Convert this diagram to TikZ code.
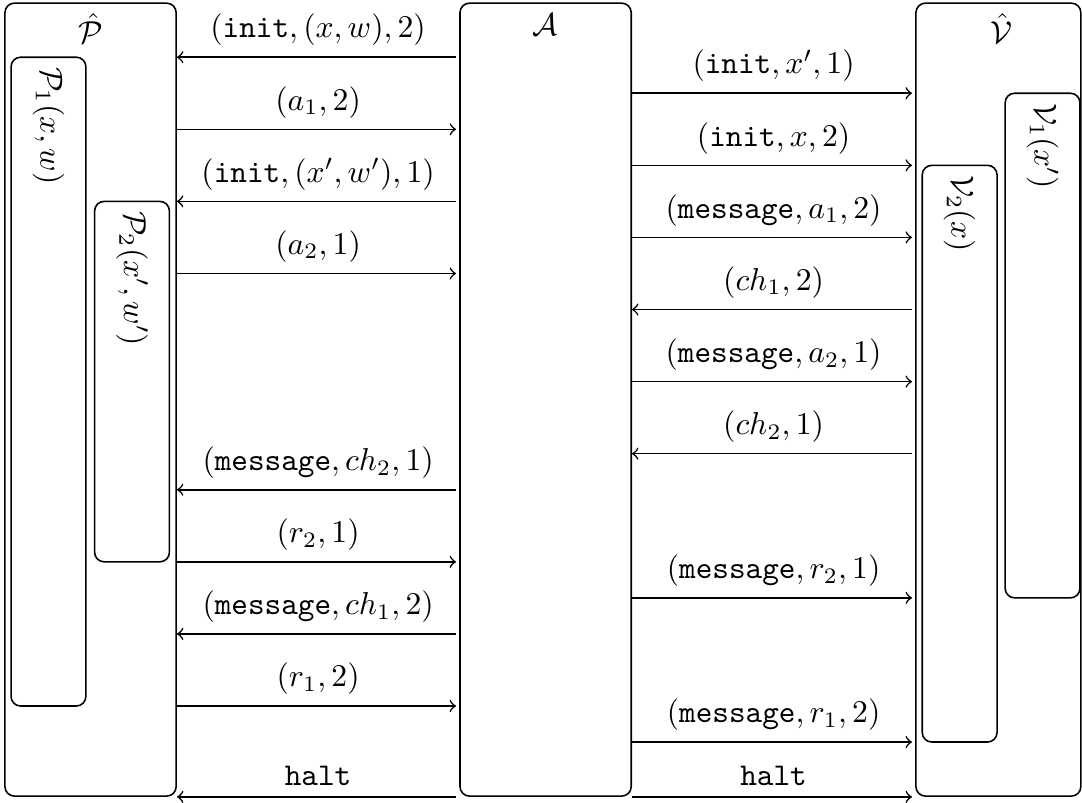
\documentclass[tikz,border=0pt]{standalone}
\usepackage{amsmath}
\usetikzlibrary{positioning, calc}

\begin{document}
\begin{tikzpicture}[
    line width=0.5pt,
    party/.style={draw, rounded corners=3pt, inner sep=0pt},
    sub/.style={draw, rounded corners=3pt, inner sep=0pt, minimum width=0.83cm},
    msg/.style={shorten >=1pt}
  ]
    \useasboundingbox (-0.055,-0.067) rectangle (11.953,8.835);

    % Outer parties
    \node[party, minimum width=1.9cm, minimum height=8.8cm] (phat) at (0.95,4.4) {};
    \node[below] at (phat.north) {$\hat{\mathcal{P}}$};

    \node[party, minimum width=1.9cm, minimum height=8.8cm] (adv) at (6.0,4.4) {};
    \node[below] at (adv.north) {$\mathcal{A}$};

    \node[party, minimum width=1.83cm, minimum height=8.8cm] (vhat) at (11.025,4.4) {};
    \node[below] at ([xshift=1pt]vhat.north) {$\hat{\mathcal{V}}$};

    % Inner provers and verifiers
    \node[sub, minimum height=7.2cm] (p1) at (0.483,4.6) {};
    \node[rotate=-90, anchor=west] at (p1.north) {$\mathcal{P}_1(x,w)$};

    \node[sub, minimum height=4.0cm] (p2) at (1.41,4.6) {};
    \node[rotate=-90, anchor=west] at (p2.north) {$\mathcal{P}_2(x',w')$};

    \node[sub, minimum height=5.6cm] (v1) at (11.515,5.0) {};
    \node[rotate=-90, anchor=west] at (v1.north) {$\mathcal{V}_1(x')$};

    \node[sub, minimum height=6.4cm] (v2) at (10.595,3.8) {};
    \node[rotate=-90, anchor=west] at (v2.north) {$\mathcal{V}_2(x)$};

    % Prover side
    \draw[msg, <-] (phat.east |- 0,8.2) -- node[above] {$(\texttt{init},(x,w),2)$} (adv.west |- 0,8.2);
    \draw[msg, ->] (phat.east |- 0,7.4) -- node[above] {$(a_1,2)$} (adv.west |- 0,7.4);
    \draw[msg, <-] (phat.east |- 0,6.6) -- node[above] {$(\texttt{init},(x',w'),1)$} (adv.west |- 0,6.6);
    \draw[msg, ->] (phat.east |- 0,5.8) -- node[above] {$(a_2,1)$} (adv.west |- 0,5.8);
    \draw[msg, <-] (phat.east |- 0,3.4) -- node[above] {$(\texttt{message},ch_2,1)$} (adv.west |- 0,3.4);
    \draw[msg, ->] (phat.east |- 0,2.6) -- node[above] {$(r_2,1)$} (adv.west |- 0,2.6);
    \draw[msg, <-] (phat.east |- 0,1.8) -- node[above] {$(\texttt{message},ch_1,2)$} (adv.west |- 0,1.8);
    \draw[msg, ->] (phat.east |- 0,1.0) -- node[above] {$(r_1,2)$} (adv.west |- 0,1.0);
    \draw[msg, <-] (phat.south east) -- node[above] {\texttt{halt}} (adv.south west);

    % Verifier side
    \draw[msg, ->] (adv.east |- 0,7.8) -- node[above] {$(\texttt{init},x',1)$} (vhat.west |- 0,7.8);
    \draw[msg, ->] (adv.east |- 0,7.0) -- node[above] {$(\texttt{init},x,2)$} (vhat.west |- 0,7.0);
    \draw[msg, ->] (adv.east |- 0,6.2) -- node[above] {$(\texttt{message},a_1,2)$} (vhat.west |- 0,6.2);
    \draw[msg, <-] (adv.east |- 0,5.4) -- node[above] {$(ch_1,2)$} (vhat.west |- 0,5.4);
    \draw[msg, ->] (adv.east |- 0,4.6) -- node[above] {$(\texttt{message},a_2,1)$} (vhat.west |- 0,4.6);
    \draw[msg, <-] (adv.east |- 0,3.8) -- node[above] {$(ch_2,1)$} (vhat.west |- 0,3.8);
    \draw[msg, ->] (adv.east |- 0,2.2) -- node[above] {$(\texttt{message},r_2,1)$} (vhat.west |- 0,2.2);
    \draw[msg, ->] (adv.east |- 0,0.6) -- node[above] {$(\texttt{message},r_1,2)$} (vhat.west |- 0,0.6);
    \draw[msg, ->] (adv.south east) -- node[above] {\texttt{halt}} (vhat.south west);
\end{tikzpicture}
\end{document}
